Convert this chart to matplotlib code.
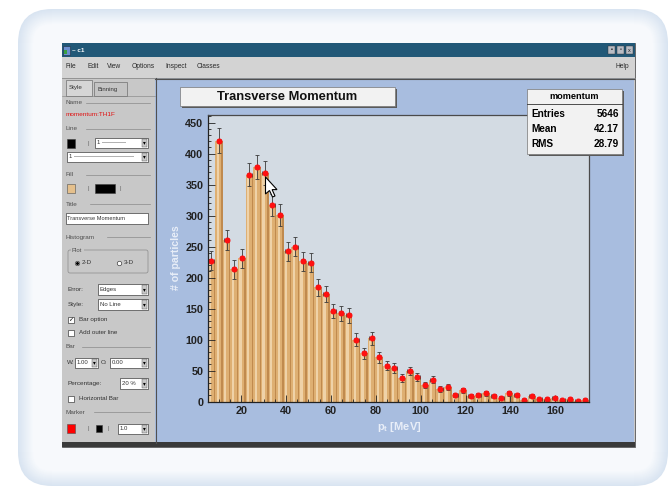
import numpy as np
import matplotlib.pyplot as plt
from matplotlib.patches import Rectangle, FancyBboxPatch, Polygon
from matplotlib.ticker import MultipleLocator

plt.rcParams['font.family'] = ['Liberation Sans', 'DejaVu Sans']

W, H = 670, 488

# histogram contents (50 bins)
counts = [227, 421, 260, 213, 231, 366, 379, 368, 317, 301,
          242, 250, 226, 224, 184, 173, 146, 142, 139, 100,
          78, 102, 71, 58, 54, 38, 49, 39, 27, 35,
          20, 24, 10, 18, 9, 10, 13, 9, 6, 13,
          11, 3, 9, 4, 4, 6, 3, 4, 1, 3]
x_lo, x_hi = 5.0, 175.0
y_top = 463
x_ticks = [20, 40, 60, 80, 100, 120, 140, 160]
y_ticks = [0, 50, 100, 150, 200, 250, 300, 350, 400, 450]
stats_rows = [("Entries", "5646"), ("Mean", "42.17"), ("RMS", "28.79")]
menu_items = [("File", 66), ("Edit", 87), ("View", 107), ("Options", 132),
              ("Inspect", 165), ("Classes", 197)]

fig = plt.figure(figsize=(W / 100, H / 100), dpi=100)
fig.patch.set_facecolor('white')


def pixel_layer(z):
    # full-figure axes in pixel coordinates, y grows downward
    a = fig.add_axes([0, 0, 1, 1], facecolor='none')
    a.set_xlim(0, W)
    a.set_ylim(H, 0)
    a.axis('off')
    a.set_zorder(z)
    return a


bg = pixel_layer(0)
fg = pixel_layer(2)


def rect(x0, y0, x1, y1, layer=None, **kw):
    r = Rectangle((x0, y0), x1 - x0, y1 - y0, **kw)
    (layer or bg).add_patch(r)
    return r


def txt(x, y, s, size=4.6, color='#333333', **kw):
    bg.text(x, y, s, fontsize=size, color=color, va='center', **kw)


# soft rounded frame around the window
c_out = np.array([0.85, 0.895, 0.945])
c_in = np.array([0.97, 0.978, 0.99])
steps = 16
for k in range(steps):
    t = k / (steps - 1)
    col = c_out * (1 - t) + c_in * t
    bg.add_patch(FancyBboxPatch((18 + k, 9 + k), 650 - 2 * k, 477 - 2 * k,
                                boxstyle="round,pad=0,rounding_size=%d" % (34 - k),
                                fc=col, ec='none'))

# window
rect(62, 43, 635, 447, fc='#c9c9c9', ec='#555555', lw=0.6)
rect(62, 43, 635, 57, fc='#215877', ec='none')
rect(63, 46, 70, 55, fc='#6c8fd0', ec='#203040', lw=0.4)
rect(64, 50, 67, 54, fc='#3aa040', ec='none')
txt(72, 50.5, "~ c1", size=4.5, color='white', weight='bold')
for bx, g in zip([608, 617, 626], ["▪", "▫", "x"]):
    rect(bx, 46, bx + 7, 54, fc='#b8bcc4', ec='#303030', lw=0.3)
    bg.text(bx + 3.5, 50, g, fontsize=4, ha='center', va='center', color='#202020')

rect(62, 57, 635, 78, fc='#d3d3d3', ec='none')
for name, mx in menu_items:
    txt(mx, 67, name, size=4.8, color='#2a2a2a')
txt(615, 67, "Help", size=4.8, color='#2a2a2a')
bg.plot([62, 635], [77.5, 77.5], color='#8a8a8a', lw=0.6)

# editor side panel
rect(62, 78, 155, 444, fc='#c8c8c8', ec='none')
rect(66, 80, 92, 96, fc='#d6d6d6', ec='#707070', lw=0.5)
txt(69, 88, "Style", size=4.5)
rect(94, 82, 127, 96, fc='#c4c4c4', ec='#707070', lw=0.5)
txt(97, 89, "Binning", size=4.3)
bg.plot([62, 155], [96, 96], color='#808080', lw=0.4)


def section(y, name):
    txt(66, y, name, size=4.6, color='#505050')
    bg.plot([66 + 4.2 * len(name) + 3, 150], [y, y], color='#8a8a8a', lw=0.5)


def combo(x0, y0, x1, y1, s=""):
    rect(x0, y0, x1, y1, fc='white', ec='#404040', lw=0.5)
    rect(x1 - 6, y0 + 1, x1 - 1, y1 - 1, fc='#c8c8c8', ec='#505050', lw=0.3)
    bg.text(x1 - 3.5, (y0 + y1) / 2, "▾", fontsize=4, ha='center', va='center')
    if s:
        txt(x0 + 2, (y0 + y1) / 2, s, size=4.3)


def checkbox(y, s, checked=False):
    rect(68, y - 3, 74, y + 3, fc='white', ec='#404040', lw=0.5)
    if checked:
        bg.text(71, y, "✓", fontsize=4.5, ha='center', va='center')
    txt(79, y, s, size=4.5)


section(103, "Name")
txt(66, 115, "momentum:TH1F", size=4.6, color='#e01010')
section(129, "Line")
rect(67, 139, 75, 148, fc='black', ec='#404040', lw=0.4)
txt(88, 143.5, "|", size=4, color='#606060')
combo(95, 138, 148, 148, "1 ————")
combo(67, 152, 148, 162, "1 ——————————")
section(175, "Fill")
rect(67, 184, 75, 193, fc='#e5c08c', ec='#505050', lw=0.4)
txt(88, 188.5, "|", size=4, color='#606060')
rect(95, 184, 115, 193, fc='black', ec='#404040', lw=0.4)
txt(119, 188.5, "|", size=4, color='#606060')
section(204, "Title")
rect(66, 213, 148, 224, fc='white', ec='#404040', lw=0.5)
txt(67, 218.5, "Transverse Momentum", size=4.1)
section(237, "Histogram")
bg.add_patch(FancyBboxPatch((68, 250), 80, 23, boxstyle="round,pad=0,rounding_size=2",
                            fc='none', ec='#8a8a8a', lw=0.5))
rect(71, 247, 84, 253, fc='#c8c8c8', ec='none')
txt(72, 250, "Plot", size=4.3, color='#505050')
bg.plot(77, 263, 'o', ms=3.2, mfc='white', mec='#404040', mew=0.5)
bg.plot(77, 263, 'o', ms=1.2, color='black')
txt(82, 263, "2-D", size=4.5)
bg.plot(119, 263, 'o', ms=3.2, mfc='white', mec='#404040', mew=0.5)
txt(124, 263, "3-D", size=4.5)
txt(68, 289.5, "Error:", size=4.6)
combo(98, 284, 148, 295, "Edges")
txt(68, 304.5, "Style:", size=4.6)
combo(98, 299, 148, 310, "No Line")
checkbox(320, "Bar option", checked=True)
checkbox(333, "Add outer line")
section(347, "Bar")
txt(67, 363, "W:", size=4.5)
combo(75, 358, 98, 368, "1.00")
txt(101, 363, "O:", size=4.5)
combo(110, 358, 148, 368, "0.00")
txt(68, 383.5, "Percentage:", size=4.6)
combo(120, 378, 148, 389, "20 %")
checkbox(399, "Horizontal Bar")
section(412, "Marker")
rect(67, 424, 75, 433, fc='#ff0000', ec='#505050', lw=0.4)
txt(88, 428.5, "|", size=4, color='#606060')
rect(96, 425, 102, 432, fc='black', ec='#404040', lw=0.4)
txt(108, 428.5, "|", size=4, color='#606060')
combo(118, 424, 148, 434, "1.0")

# canvas
rect(155, 78, 634, 443, fc='#a8bddf', ec='none')
bg.plot([155.5, 155.5], [78, 443], color='#505050', lw=0.8)
bg.plot([155, 634], [78.5, 78.5], color='#505050', lw=0.8)
rect(62, 442, 635, 447, fc='#3a3a3a', ec='none')

# axis titles on the canvas
bg.text(176, 258, "# of particles", fontsize=7.6, weight='bold', color='#e8eef8',
        rotation=90, ha='center', va='center')
bg.text(399, 427, r"p$_{\mathregular{t}}$ [MeV]", fontsize=8, weight='bold',
        color='#e8eef8', ha='center', va='center')

# title pave
rect(182, 89, 397, 108, layer=fg, fc='#5a5a5a', ec='none')
rect(180, 87, 395, 106, layer=fg, fc='#f2f2f2', ec='#777777', lw=0.5)
fg.text(287, 96.5, "Transverse Momentum", fontsize=9.3, weight='bold',
        ha='center', va='center', color='#111111')

# statistics pave
rect(529, 91, 624, 156, layer=fg, fc='#5a5a5a', ec='none')
rect(527, 89, 622, 154, layer=fg, fc='#f2f2f2', ec='#777777', lw=0.5)
fg.plot([527, 622], [103.5, 103.5], color='#333333', lw=0.6)
fg.text(574.5, 96.3, "momentum", fontsize=6.6, weight='bold', ha='center', va='center')
for i, (k, v) in enumerate(stats_rows):
    yy = 114 + 15 * i
    fg.text(531, yy, k, fontsize=7.2, weight='bold', va='center')
    fg.text(619, yy, v, fontsize=7.2, weight='bold', va='center', ha='right')

# histogram frame
ax = fig.add_axes([207.5 / W, 1 - 401.5 / H, (589 - 207.5) / W, (401.5 - 114.5) / H])
ax.set_zorder(1)
ax.set_facecolor('#d3dbe3')
n = len(counts)
edges = np.linspace(x_lo, x_hi, n + 1)
w = edges[1] - edges[0]
left = edges[:-1]
centers = left + w / 2
vals = np.array(counts, dtype=float)

ax.bar(left, vals, width=w, align='edge', color='#deaf72', linewidth=0)
ax.bar(left + 0.18 * w, vals, width=0.3 * w, align='edge', color='#efd2a8', linewidth=0)
ax.bar(left + 0.82 * w, vals, width=0.18 * w, align='edge', color='#c08a4e', linewidth=0)
ax.errorbar(centers, vals, yerr=np.sqrt(vals), xerr=0.3 * w, fmt='none',
            ecolor='#3a3a3a', elinewidth=0.6, capsize=1.4, capthick=0.6)
ax.plot(centers, vals, 'o', ms=3.3, color='#ff1010', mec='#ff1010')

ax.set_xlim(x_lo, x_hi)
ax.set_ylim(0, y_top)
ax.set_xticks(x_ticks)
ax.set_yticks(y_ticks)
ax.xaxis.set_minor_locator(MultipleLocator(5))
ax.yaxis.set_minor_locator(MultipleLocator(10))
ax.tick_params(which='both', direction='in', colors='#222222', width=0.6)
ax.tick_params(which='major', length=5, labelsize=7.8, pad=3)
ax.tick_params(which='minor', length=2.5)
for lab in ax.get_xticklabels() + ax.get_yticklabels():
    lab.set_fontweight('bold')
for side in ['left', 'bottom']:
    ax.spines[side].set_color('#222222')
    ax.spines[side].set_linewidth(0.9)
for side in ['top', 'right']:
    ax.spines[side].set_color('#4a4a4a')
    ax.spines[side].set_linewidth(0.9)

# mouse pointer
arrow = np.array([[0, 0], [0, 17], [4, 13.5], [7, 20], [9.5, 19], [6.6, 12.6], [11.5, 12.6]])
fg.add_patch(Polygon(arrow + [265.5, 177], closed=True, fc='white', ec='black', lw=0.8))

fig.savefig('out.png', dpi=100)
